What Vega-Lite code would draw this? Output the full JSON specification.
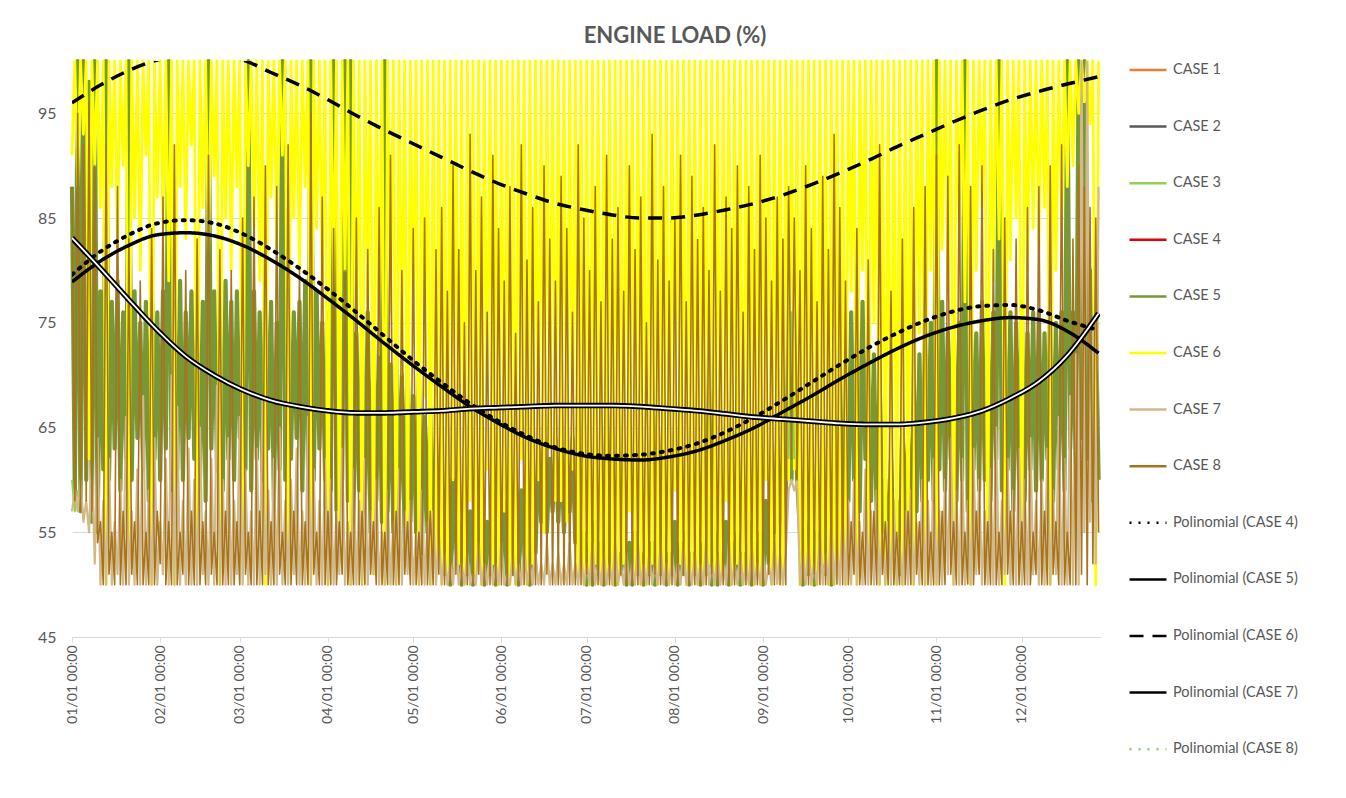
{
"$schema": "https://vega.github.io/schema/vega-lite/v6.json",
"autosize": {"type": "none"},
"padding": {"left": 72, "top": 61, "right": 246, "bottom": 161},
"width": 1028,
"height": 576,
"background": "white",
"config": {"view": {"stroke": null}, "font": "Lato"},
"title": {"text": "ENGINE LOAD (%)", "frame": "group", "anchor": "middle", "dx": 89, "offset": 2, "font": "Lato", "fontSize": 22, "fontWeight": "bold", "color": "#595959"},
"datasets": {
"main": [
{"d":0,"g":88,"y":91,"t":57,"b":88},{"d":1,"g":58,"y":100,"t":59,"b":58},{"d":2,"g":100,"y":88,"t":57,"b":95},{"d":3,"g":57,"y":100,"t":60,"b":57},{"d":4,"g":100,"y":93,"t":56,"b":92},{"d":5,"g":60,"y":100,"t":58,"b":58},{"d":6,"g":98,"y":62,"t":55,"b":96},{"d":7,"g":56,"y":100,"t":62,"b":57},{"d":8,"g":100,"y":90,"t":52,"b":90},{"d":9,"g":55,"y":100,"t":64,"b":54},
{"d":10,"g":78,"y":86,"t":50,"b":56},{"d":11,"g":61,"y":100,"t":58,"b":50},{"d":12,"g":100,"y":50,"t":50,"b":92},{"d":13,"g":60,"y":100,"t":62,"b":51},{"d":14,"g":77,"y":88,"t":50,"b":55},{"d":15,"g":63,"y":100,"t":56,"b":50},{"d":16,"g":79,"y":82,"t":51,"b":88},{"d":17,"g":59,"y":100,"t":60,"b":50},{"d":18,"g":76,"y":90,"t":50,"b":57},{"d":19,"g":62,"y":100,"t":66,"b":50},
{"d":20,"g":100,"y":52,"t":50,"b":83},{"d":21,"g":60,"y":100,"t":57,"b":51},{"d":22,"g":78,"y":85,"t":50,"b":56},{"d":23,"g":64,"y":100,"t":61,"b":50},{"d":24,"g":75,"y":80,"t":50,"b":79},{"d":25,"g":61,"y":100,"t":68,"b":50},{"d":26,"g":77,"y":91,"t":50,"b":55},{"d":27,"g":58,"y":100,"t":59,"b":50},{"d":28,"g":80,"y":50,"t":50,"b":84},{"d":29,"g":62,"y":100,"t":64,"b":50},
{"d":30,"g":76,"y":87,"t":50,"b":57},{"d":31,"g":60,"y":100,"t":56,"b":52},{"d":32,"g":78,"y":84,"t":51,"b":87},{"d":33,"g":63,"y":100,"t":62,"b":50},{"d":34,"g":100,"y":79,"t":50,"b":56},{"d":35,"g":59,"y":100,"t":70,"b":50},{"d":36,"g":77,"y":50,"t":50,"b":92},{"d":37,"g":61,"y":100,"t":67,"b":50},{"d":38,"g":79,"y":88,"t":50,"b":55},{"d":39,"g":60,"y":100,"t":58,"b":51},
{"d":40,"g":76,"y":83,"t":50,"b":80},{"d":41,"g":64,"y":100,"t":63,"b":50},{"d":42,"g":78,"y":92,"t":50,"b":57},{"d":43,"g":62,"y":100,"t":60,"b":50},{"d":44,"g":75,"y":52,"t":50,"b":83},{"d":45,"g":60,"y":100,"t":65,"b":50},{"d":46,"g":77,"y":86,"t":51,"b":56},{"d":47,"g":58,"y":100,"t":57,"b":50},{"d":48,"g":100,"y":81,"t":50,"b":91},{"d":49,"g":63,"y":100,"t":62,"b":51},
{"d":50,"g":78,"y":89,"t":50,"b":55},{"d":51,"g":61,"y":100,"t":69,"b":50},{"d":52,"g":76,"y":50,"t":50,"b":82},{"d":53,"g":59,"y":100,"t":60,"b":50},{"d":54,"g":79,"y":85,"t":50,"b":57},{"d":55,"g":62,"y":100,"t":64,"b":50},{"d":56,"g":77,"y":80,"t":50,"b":80},{"d":57,"g":60,"y":100,"t":58,"b":50},{"d":58,"g":78,"y":88,"t":51,"b":56},{"d":59,"g":64,"y":100,"t":66,"b":50},
{"d":60,"g":75,"y":53,"t":50,"b":85},{"d":61,"g":61,"y":100,"t":61,"b":51},{"d":62,"g":100,"y":90,"t":50,"b":55},{"d":63,"g":59,"y":100,"t":57,"b":50},{"d":64,"g":78,"y":84,"t":50,"b":87},{"d":65,"g":62,"y":100,"t":63,"b":50},{"d":66,"g":76,"y":79,"t":50,"b":57},{"d":67,"g":60,"y":100,"t":68,"b":50},{"d":68,"g":79,"y":50,"t":51,"b":90},{"d":69,"g":63,"y":100,"t":59,"b":50},
{"d":70,"g":77,"y":87,"t":50,"b":56},{"d":71,"g":58,"y":100,"t":62,"b":50},{"d":72,"g":75,"y":82,"t":50,"b":88},{"d":73,"g":61,"y":100,"t":65,"b":51},{"d":74,"g":100,"y":91,"t":50,"b":55},{"d":75,"g":60,"y":100,"t":58,"b":50},{"d":76,"g":78,"y":51,"t":50,"b":92},{"d":77,"g":62,"y":100,"t":60,"b":50},{"d":78,"g":76,"y":85,"t":51,"b":57},{"d":79,"g":64,"y":100,"t":63,"b":50},
{"d":80,"g":77,"y":80,"t":50,"b":80},{"d":81,"g":59,"y":100,"t":57,"b":50},{"d":82,"g":79,"y":88,"t":50,"b":56},{"d":83,"g":61,"y":100,"t":66,"b":50},{"d":84,"g":100,"y":50,"t":50,"b":95},{"d":85,"g":60,"y":100,"t":61,"b":51},{"d":86,"g":78,"y":84,"t":50,"b":55},{"d":87,"g":63,"y":100,"t":58,"b":50},{"d":88,"g":75,"y":79,"t":50,"b":87},{"d":89,"g":60,"y":100,"t":62,"b":50},
{"d":90,"g":76,"y":50,"t":50,"b":57},{"d":91,"g":59,"y":100,"t":60,"b":50},{"d":92,"g":100,"y":78,"t":50,"b":84},{"d":93,"g":57,"y":100,"t":57,"b":50},{"d":94,"g":75,"y":52,"t":51,"b":56},{"d":95,"g":60,"y":100,"t":63,"b":51},{"d":96,"g":100,"y":80,"t":50,"b":80},{"d":97,"g":58,"y":100,"t":56,"b":50},{"d":98,"g":100,"y":50,"t":50,"b":55},{"d":99,"g":56,"y":100,"t":61,"b":50},
{"d":100,"g":74,"y":74,"t":50,"b":85},{"d":101,"g":59,"y":100,"t":58,"b":50},{"d":102,"g":73,"y":50,"t":50,"b":57},{"d":103,"g":57,"y":100,"t":62,"b":50},{"d":104,"g":76,"y":77,"t":50,"b":82},{"d":105,"g":55,"y":100,"t":57,"b":51},{"d":106,"g":72,"y":51,"t":51,"b":56},{"d":107,"g":58,"y":100,"t":60,"b":50},{"d":108,"g":74,"y":72,"t":50,"b":86},{"d":109,"g":56,"y":100,"t":55,"b":50},
{"d":110,"g":100,"y":50,"t":50,"b":55},{"d":111,"g":57,"y":100,"t":59,"b":50},{"d":112,"g":71,"y":76,"t":50,"b":91},{"d":113,"g":55,"y":100,"t":56,"b":50},{"d":114,"g":73,"y":50,"t":50,"b":57},{"d":115,"g":58,"y":100,"t":61,"b":50},{"d":116,"g":70,"y":70,"t":50,"b":80},{"d":117,"g":54,"y":100,"t":57,"b":51},{"d":118,"g":72,"y":52,"t":51,"b":56},{"d":119,"g":56,"y":100,"t":58,"b":50},
{"d":120,"g":68,"y":73,"t":50,"b":84},{"d":121,"g":55,"y":100,"t":55,"b":50},{"d":122,"g":70,"y":50,"t":50,"b":55},{"d":123,"g":53,"y":100,"t":59,"b":50},{"d":124,"g":66,"y":68,"t":50,"b":85},{"d":125,"g":55,"y":100,"t":56,"b":50},{"d":126,"g":67,"y":50,"t":50,"b":57},{"d":127,"g":52,"y":100,"t":57,"b":50},{"d":128,"g":64,"y":51,"t":50,"b":82},{"d":129,"g":54,"y":100,"t":55,"b":51},
{"d":130,"g":58,"y":50,"t":50,"b":86},{"d":131,"g":51,"y":100,"t":53,"b":50},{"d":132,"g":57,"y":51,"t":50,"b":78},{"d":133,"g":50,"y":100,"t":52,"b":50},{"d":134,"g":60,"y":60,"t":50,"b":90},{"d":135,"g":52,"y":100,"t":54,"b":51},{"d":136,"g":56,"y":52,"t":50,"b":82},{"d":137,"g":50,"y":100,"t":52,"b":50},{"d":138,"g":59,"y":50,"t":50,"b":75},{"d":139,"g":51,"y":100,"t":53,"b":50},
{"d":140,"g":57,"y":58,"t":50,"b":93},{"d":141,"g":50,"y":100,"t":51,"b":50},{"d":142,"g":58,"y":51,"t":50,"b":80},{"d":143,"g":52,"y":100,"t":54,"b":51},{"d":144,"g":60,"y":50,"t":50,"b":87},{"d":145,"g":50,"y":100,"t":52,"b":50},{"d":146,"g":56,"y":61,"t":50,"b":76},{"d":147,"g":51,"y":100,"t":53,"b":50},{"d":148,"g":59,"y":52,"t":50,"b":91},{"d":149,"g":50,"y":100,"t":52,"b":50},
{"d":150,"g":57,"y":50,"t":50,"b":84},{"d":151,"g":52,"y":100,"t":54,"b":50},{"d":152,"g":58,"y":57,"t":50,"b":79},{"d":153,"g":50,"y":100,"t":51,"b":50},{"d":154,"g":60,"y":50,"t":50,"b":88},{"d":155,"g":51,"y":100,"t":53,"b":51},{"d":156,"g":57,"y":50,"t":50,"b":74},{"d":157,"g":50,"y":100,"t":52,"b":50},{"d":158,"g":59,"y":62,"t":50,"b":92},{"d":159,"g":52,"y":100,"t":54,"b":50},
{"d":160,"g":58,"y":50,"t":50,"b":81},{"d":161,"g":50,"y":100,"t":52,"b":50},{"d":162,"g":56,"y":52,"t":50,"b":86},{"d":163,"g":53,"y":100,"t":53,"b":50},{"d":164,"g":63,"y":60,"t":50,"b":77},{"d":165,"g":56,"y":100,"t":52,"b":50},{"d":166,"g":64,"y":55,"t":50,"b":90},{"d":167,"g":55,"y":100,"t":54,"b":51},{"d":168,"g":62,"y":63,"t":50,"b":83},{"d":169,"g":57,"y":100,"t":52,"b":50},
{"d":170,"g":64,"y":58,"t":50,"b":79},{"d":171,"g":56,"y":100,"t":53,"b":50},{"d":172,"g":63,"y":58,"t":50,"b":89},{"d":173,"g":55,"y":100,"t":52,"b":50},{"d":174,"g":62,"y":56,"t":50,"b":84},{"d":175,"g":57,"y":100,"t":54,"b":50},{"d":176,"g":64,"y":61,"t":50,"b":76},{"d":177,"g":54,"y":100,"t":52,"b":50},{"d":178,"g":60,"y":51,"t":50,"b":92},{"d":179,"g":52,"y":100,"t":53,"b":50},
{"d":180,"g":55,"y":50,"t":50,"b":85},{"d":181,"g":50,"y":100,"t":52,"b":51},{"d":182,"g":54,"y":50,"t":50,"b":80},{"d":183,"g":50,"y":100,"t":54,"b":50},{"d":184,"g":56,"y":52,"t":50,"b":88},{"d":185,"g":51,"y":100,"t":52,"b":50},{"d":186,"g":54,"y":50,"t":50,"b":77},{"d":187,"g":50,"y":100,"t":53,"b":50},{"d":188,"g":70,"y":51,"t":50,"b":91},{"d":189,"g":51,"y":100,"t":52,"b":50},
{"d":190,"g":55,"y":50,"t":50,"b":83},{"d":191,"g":50,"y":100,"t":54,"b":50},{"d":192,"g":53,"y":50,"t":50,"b":86},{"d":193,"g":51,"y":100,"t":52,"b":51},{"d":194,"g":56,"y":52,"t":50,"b":78},{"d":195,"g":50,"y":100,"t":53,"b":50},{"d":196,"g":54,"y":57,"t":50,"b":90},{"d":197,"g":50,"y":100,"t":52,"b":50},{"d":198,"g":55,"y":51,"t":50,"b":82},{"d":199,"g":51,"y":100,"t":54,"b":50},
{"d":200,"g":53,"y":50,"t":50,"b":87},{"d":201,"g":50,"y":100,"t":52,"b":50},{"d":202,"g":56,"y":50,"t":50,"b":75},{"d":203,"g":51,"y":100,"t":53,"b":50},{"d":204,"g":54,"y":52,"t":50,"b":93},{"d":205,"g":50,"y":100,"t":52,"b":51},{"d":206,"g":66,"y":50,"t":50,"b":81},{"d":207,"g":51,"y":100,"t":54,"b":50},{"d":208,"g":55,"y":51,"t":50,"b":88},{"d":209,"g":50,"y":100,"t":52,"b":50},
{"d":210,"g":53,"y":50,"t":50,"b":79},{"d":211,"g":51,"y":100,"t":53,"b":50},{"d":212,"g":56,"y":59,"t":50,"b":85},{"d":213,"g":50,"y":100,"t":52,"b":50},{"d":214,"g":54,"y":52,"t":50,"b":91},{"d":215,"g":51,"y":100,"t":54,"b":51},{"d":216,"g":55,"y":50,"t":50,"b":77},{"d":217,"g":50,"y":100,"t":52,"b":50},{"d":218,"g":53,"y":51,"t":50,"b":89},{"d":219,"g":51,"y":100,"t":53,"b":50},
{"d":220,"g":56,"y":50,"t":50,"b":83},{"d":221,"g":50,"y":100,"t":52,"b":50},{"d":222,"g":54,"y":50,"t":50,"b":86},{"d":223,"g":51,"y":100,"t":54,"b":50},{"d":224,"g":72,"y":52,"t":50,"b":80},{"d":225,"g":50,"y":100,"t":52,"b":51},{"d":226,"g":55,"y":50,"t":50,"b":92},{"d":227,"g":50,"y":100,"t":53,"b":50},{"d":228,"g":53,"y":51,"t":50,"b":78},{"d":229,"g":51,"y":100,"t":52,"b":50},
{"d":230,"g":56,"y":58,"t":50,"b":87},{"d":231,"g":50,"y":100,"t":54,"b":50},{"d":232,"g":54,"y":50,"t":50,"b":84},{"d":233,"g":51,"y":100,"t":52,"b":50},{"d":234,"g":55,"y":52,"t":50,"b":90},{"d":235,"g":50,"y":100,"t":53,"b":51},{"d":236,"g":53,"y":50,"t":50,"b":76},{"d":237,"g":51,"y":100,"t":52,"b":50},{"d":238,"g":56,"y":51,"t":50,"b":88},{"d":239,"g":50,"y":100,"t":54,"b":50},
{"d":240,"g":54,"y":50,"t":50,"b":82},{"d":241,"g":51,"y":100,"t":52,"b":50},{"d":242,"g":55,"y":50,"t":50,"b":91},{"d":243,"g":50,"y":100,"t":53,"b":50},{"d":244,"g":58,"y":60,"t":50,"b":85},{"d":245,"g":52,"y":100,"t":52,"b":51},{"d":246,"g":62,"y":50,"t":50,"b":79},{"d":247,"g":55,"y":100,"t":54,"b":50},{"d":248,"g":64,"y":51,"t":50,"b":87},{"d":249,"g":56,"y":100,"t":53,"b":50},
{"d":250,"g":62,"y":50,"t":50,"b":83},{"d":251,"g":58,"y":100,"t":53,"b":50},{"d":252,"g":78,"y":60,"t":59,"b":88},{"d":253,"g":60,"y":100,"t":60,"b":62},{"d":254,"g":76,"y":61,"t":59,"b":85},{"d":255,"g":60,"y":100,"t":60,"b":60},{"d":256,"g":55,"y":50,"t":50,"b":80},{"d":257,"g":50,"y":100,"t":53,"b":50},{"d":258,"g":56,"y":51,"t":50,"b":90},{"d":259,"g":51,"y":100,"t":54,"b":50},
{"d":260,"g":58,"y":50,"t":50,"b":84},{"d":261,"g":50,"y":100,"t":52,"b":51},{"d":262,"g":55,"y":50,"t":50,"b":77},{"d":263,"g":52,"y":100,"t":55,"b":50},{"d":264,"g":60,"y":52,"t":50,"b":89},{"d":265,"g":51,"y":100,"t":53,"b":50},{"d":266,"g":57,"y":50,"t":50,"b":82},{"d":267,"g":50,"y":100,"t":56,"b":50},{"d":268,"g":62,"y":50,"t":50,"b":93},{"d":269,"g":53,"y":100,"t":54,"b":50},
{"d":270,"g":66,"y":51,"t":50,"b":86},{"d":271,"g":55,"y":100,"t":57,"b":50},{"d":272,"g":74,"y":50,"t":50,"b":79},{"d":273,"g":58,"y":100,"t":58,"b":50},{"d":274,"g":76,"y":78,"t":50,"b":56},{"d":275,"g":60,"y":100,"t":60,"b":51},{"d":276,"g":75,"y":50,"t":50,"b":84},{"d":277,"g":57,"y":100,"t":56,"b":50},{"d":278,"g":77,"y":80,"t":50,"b":55},{"d":279,"g":62,"y":100,"t":61,"b":50},
{"d":280,"g":73,"y":52,"t":50,"b":81},{"d":281,"g":58,"y":100,"t":57,"b":50},{"d":282,"g":72,"y":75,"t":50,"b":57},{"d":283,"g":56,"y":100,"t":59,"b":50},{"d":284,"g":70,"y":50,"t":50,"b":92},{"d":285,"g":55,"y":100,"t":55,"b":51},{"d":286,"g":60,"y":50,"t":50,"b":56},{"d":287,"g":52,"y":100,"t":56,"b":50},{"d":288,"g":62,"y":51,"t":50,"b":78},{"d":289,"g":53,"y":100,"t":58,"b":50},
{"d":290,"g":58,"y":50,"t":50,"b":55},{"d":291,"g":51,"y":100,"t":54,"b":50},{"d":292,"g":66,"y":50,"t":50,"b":83},{"d":293,"g":55,"y":100,"t":57,"b":50},{"d":294,"g":64,"y":52,"t":50,"b":57},{"d":295,"g":54,"y":100,"t":59,"b":50},{"d":296,"g":70,"y":50,"t":50,"b":86},{"d":297,"g":57,"y":100,"t":56,"b":51},{"d":298,"g":72,"y":74,"t":50,"b":56},{"d":299,"g":58,"y":100,"t":60,"b":50},
{"d":300,"g":76,"y":50,"t":50,"b":88},{"d":301,"g":60,"y":100,"t":58,"b":50},{"d":302,"g":75,"y":80,"t":50,"b":55},{"d":303,"g":58,"y":100,"t":62,"b":50},{"d":304,"g":100,"y":50,"t":50,"b":91},{"d":305,"g":61,"y":100,"t":57,"b":50},{"d":306,"g":77,"y":82,"t":50,"b":57},{"d":307,"g":59,"y":100,"t":60,"b":50},{"d":308,"g":74,"y":78,"t":51,"b":89},{"d":309,"g":62,"y":100,"t":64,"b":51},
{"d":310,"g":76,"y":50,"t":50,"b":56},{"d":311,"g":58,"y":100,"t":59,"b":50},{"d":312,"g":75,"y":84,"t":50,"b":92},{"d":313,"g":60,"y":100,"t":62,"b":50},{"d":314,"g":100,"y":77,"t":50,"b":55},{"d":315,"g":57,"y":100,"t":58,"b":50},{"d":316,"g":76,"y":50,"t":50,"b":88},{"d":317,"g":61,"y":100,"t":63,"b":50},{"d":318,"g":74,"y":80,"t":51,"b":57},{"d":319,"g":59,"y":100,"t":60,"b":51},
{"d":320,"g":77,"y":86,"t":50,"b":90},{"d":321,"g":60,"y":100,"t":57,"b":50},{"d":322,"g":75,"y":51,"t":50,"b":56},{"d":323,"g":58,"y":100,"t":61,"b":50},{"d":324,"g":76,"y":79,"t":50,"b":82},{"d":325,"g":62,"y":100,"t":65,"b":50},{"d":326,"g":100,"y":83,"t":50,"b":55},{"d":327,"g":59,"y":100,"t":58,"b":50},{"d":328,"g":74,"y":50,"t":51,"b":85},{"d":329,"g":61,"y":100,"t":62,"b":51},
{"d":330,"g":76,"y":81,"t":50,"b":57},{"d":331,"g":57,"y":100,"t":59,"b":50},{"d":332,"g":75,"y":85,"t":50,"b":83},{"d":333,"g":60,"y":100,"t":63,"b":50},{"d":334,"g":77,"y":52,"t":50,"b":56},{"d":335,"g":58,"y":100,"t":60,"b":50},{"d":336,"g":74,"y":80,"t":50,"b":86},{"d":337,"g":61,"y":100,"t":64,"b":50},{"d":338,"g":76,"y":84,"t":51,"b":55},{"d":339,"g":59,"y":100,"t":58,"b":51},
{"d":340,"g":76,"y":82,"t":50,"b":88},{"d":341,"g":60,"y":100,"t":60,"b":50},{"d":342,"g":74,"y":86,"t":50,"b":57},{"d":343,"g":62,"y":100,"t":63,"b":50},{"d":344,"g":77,"y":50,"t":50,"b":90},{"d":345,"g":58,"y":100,"t":59,"b":51},{"d":346,"g":75,"y":80,"t":51,"b":56},{"d":347,"g":61,"y":100,"t":66,"b":50},{"d":348,"g":76,"y":84,"t":50,"b":92},{"d":349,"g":59,"y":100,"t":62,"b":50},
{"d":350,"g":100,"y":88,"t":50,"b":55},{"d":351,"g":63,"y":100,"t":68,"b":50},{"d":352,"g":76,"y":90,"t":50,"b":83},{"d":353,"g":60,"y":100,"t":72,"b":50},{"d":354,"g":100,"y":95,"t":50,"b":90},{"d":355,"g":64,"y":100,"t":100,"b":51},{"d":356,"g":100,"y":96,"t":55,"b":88},{"d":357,"g":62,"y":100,"t":100,"b":50},{"d":358,"g":80,"y":94,"t":56,"b":86},{"d":359,"g":58,"y":100,"t":75,"b":52},
{"d":360,"g":76,"y":50,"t":52,"b":85},{"d":361,"g":60,"y":100,"t":88,"b":55}
],
"poly": [
{"d":0,"a":79.6,"p":78.9,"q":96.0,"r":83.1},{"d":10,"a":81.8,"p":80.9,"q":97.7,"r":80.2},{"d":20,"a":83.4,"p":82.4,"q":99.1,"r":77.2},{"d":30,"a":84.5,"p":83.4,"q":100.1,"r":74.3},{"d":40,"a":84.8,"p":83.6,"q":100.6,"r":71.8},{"d":50,"a":84.5,"p":83.3,"q":100.6,"r":70.0},{"d":60,"a":83.5,"p":82.4,"q":100.1,"r":68.6},{"d":70,"a":82.0,"p":81.0,"q":98.9,"r":67.6},{"d":80,"a":80.2,"p":79.3,"q":97.7,"r":67.0},{"d":90,"a":78.2,"p":77.3,"q":96.3,"r":66.6},
{"d":100,"a":76.0,"p":75.2,"q":94.8,"r":66.4},{"d":110,"a":73.7,"p":73.0,"q":93.4,"r":66.4},{"d":120,"a":71.4,"p":70.9,"q":92.1,"r":66.5},{"d":130,"a":69.3,"p":68.9,"q":90.8,"r":66.6},{"d":140,"a":67.3,"p":67.0,"q":89.5,"r":66.8},{"d":150,"a":65.6,"p":65.4,"q":88.3,"r":66.9},{"d":160,"a":64.2,"p":64.0,"q":87.3,"r":67.0},{"d":170,"a":63.1,"p":63.0,"q":86.4,"r":67.1},{"d":180,"a":62.5,"p":62.3,"q":85.8,"r":67.1},{"d":190,"a":62.3,"p":62.0,"q":85.3,"r":67.1},
{"d":200,"a":62.4,"p":61.9,"q":85.0,"r":67.0},{"d":210,"a":62.8,"p":62.2,"q":85.0,"r":66.8},{"d":220,"a":63.5,"p":62.8,"q":85.3,"r":66.6},{"d":230,"a":64.6,"p":63.8,"q":85.8,"r":66.3},{"d":240,"a":66.0,"p":65.0,"q":86.4,"r":66.0},{"d":250,"a":67.6,"p":66.5,"q":87.2,"r":65.8},{"d":260,"a":69.3,"p":68.0,"q":88.2,"r":65.6},{"d":270,"a":71.0,"p":69.6,"q":89.3,"r":65.4},{"d":280,"a":72.6,"p":71.1,"q":90.5,"r":65.3},{"d":290,"a":74.0,"p":72.5,"q":91.8,"r":65.3},
{"d":300,"a":75.2,"p":73.7,"q":93.0,"r":65.5},{"d":310,"a":76.1,"p":74.6,"q":94.2,"r":65.9},{"d":320,"a":76.6,"p":75.2,"q":95.3,"r":66.6},{"d":330,"a":76.7,"p":75.5,"q":96.3,"r":67.8},{"d":340,"a":76.2,"p":75.3,"q":97.1,"r":69.4},{"d":350,"a":75.2,"p":74.2,"q":97.8,"r":71.9},{"d":361,"a":74.3,"p":72.1,"q":98.5,"r":75.9}
]
},
"data": {"name": "main"},
"encoding": {
  "x": {"field": "d", "type": "quantitative", "scale": {"domain": [0, 361.5], "nice": false, "zero": false},
    "axis": {"title": null, "values": [0,31,59,90,120,151,181,212,243,273,304,334], "labelExpr": "timeFormat(datetime(2021, 0, 1 + datum.value), '%m/%d %H:%M')", "labelAngle": -90, "labelFont": "Lato", "labelFontSize": 14, "labelColor": "#595959", "labelPadding": 3, "domainColor": "#d9d9d9", "tickColor": "#d9d9d9", "tickSize": 5, "grid": false}},
  "y": {"type": "quantitative", "scale": {"domain": [45, 100], "nice": false, "zero": false},
    "axis": {"title": null, "values": [45,55,65,75,85,95], "grid": true, "gridColor": "#d9d9d9", "domain": false, "ticks": false, "labelFont": "Lato", "labelFontSize": 16, "labelColor": "#595959", "labelPadding": 16}},
  "color": {"scale": {"domain": ["CASE 1","CASE 2","CASE 3","CASE 4","CASE 5","CASE 6","CASE 7","CASE 8","Polinomial (CASE 4)","Polinomial (CASE 5)","Polinomial (CASE 6)","Polinomial (CASE 7)","Polinomial (CASE 8)"],
                 "range": ["#ED7D31","#5A5A5A","#92D050","#E00000","#789838","#FFFF00","#D2B98A","#A6741E","#000000","#000000","#000000","#000000","#92D050"]},
       "legend": {"orient": "none", "legendX": 1056, "legendY": -11, "title": null, "padding": 0, "symbolType": "stroke", "symbolSize": 1369, "symbolStrokeWidth": 2.5, "labelFont": "Lato", "labelFontSize": 14.5, "labelColor": "#595959", "rowPadding": 29.6, "labelOffset": 5}},
  "strokeDash": {"scale": {"domain": ["CASE 1","CASE 2","CASE 3","CASE 4","CASE 5","CASE 6","CASE 7","CASE 8","Polinomial (CASE 4)","Polinomial (CASE 5)","Polinomial (CASE 6)","Polinomial (CASE 7)","Polinomial (CASE 8)"],
                 "range": [[1,0],[1,0],[1,0],[1,0],[1,0],[1,0],[1,0],[1,0],[2,7],[1,0],[14,9],[1,0],[2,7]]},
       "legend": {"orient": "none", "legendX": 1056, "legendY": -11, "title": null, "padding": 0, "symbolType": "stroke", "symbolSize": 1369, "symbolStrokeWidth": 2.5, "labelFont": "Lato", "labelFontSize": 14.5, "labelColor": "#595959", "rowPadding": 29.6, "labelOffset": 5}}
},
"layer": [
  {"mark": {"type": "line", "strokeWidth": 4.2, "strokeJoin": "round"},
   "encoding": {"y": {"field": "g"}, "color": {"datum": "CASE 5"}, "strokeDash": {"datum": "CASE 5"}}},
  {"mark": {"type": "line", "strokeWidth": 2.8, "strokeJoin": "round"},
   "encoding": {"y": {"field": "y"}, "color": {"datum": "CASE 6"}, "strokeDash": {"datum": "CASE 6"}}},
  {"data": {"values": [{"d":0,"v":60,"s":1},{"d":1,"v":57,"s":1},{"d":2,"v":59,"s":1},{"d":252,"v":62,"s":2},{"d":253,"v":76,"s":2},{"d":254,"v":62,"s":2}]},
   "mark": {"type": "line", "strokeWidth": 2, "strokeJoin": "round"},
   "encoding": {"y": {"field": "v"}, "detail": {"field": "s"}, "color": {"datum": "CASE 3"}, "strokeDash": {"datum": "CASE 3"}}},
  {"mark": {"type": "line", "strokeWidth": 2.2, "strokeJoin": "round"},
   "encoding": {"y": {"field": "t"}, "color": {"datum": "CASE 7"}, "strokeDash": {"datum": "CASE 7"}}},
  {"mark": {"type": "line", "strokeWidth": 1.6, "strokeJoin": "round"},
   "encoding": {"y": {"field": "b"}, "color": {"datum": "CASE 8"}, "strokeDash": {"datum": "CASE 8"}}},
  {"data": {"name": "poly"},
   "mark": {"type": "line", "strokeWidth": 4, "strokeCap": "round", "interpolate": "monotone", "clip": true},
   "encoding": {"y": {"field": "a"}, "color": {"datum": "Polinomial (CASE 4)"}, "strokeDash": {"datum": "Polinomial (CASE 4)"}}},
  {"data": {"name": "poly"},
   "mark": {"type": "line", "strokeWidth": 3.5, "interpolate": "monotone", "clip": true},
   "encoding": {"y": {"field": "p"}, "color": {"datum": "Polinomial (CASE 5)"}, "strokeDash": {"datum": "Polinomial (CASE 5)"}}},
  {"data": {"name": "poly"},
   "mark": {"type": "line", "strokeWidth": 3.5, "interpolate": "monotone", "clip": true},
   "encoding": {"y": {"field": "q"}, "color": {"datum": "Polinomial (CASE 6)"}, "strokeDash": {"datum": "Polinomial (CASE 6)"}}},
  {"data": {"name": "poly"},
   "mark": {"type": "line", "strokeWidth": 5.5, "interpolate": "monotone", "clip": true},
   "encoding": {"y": {"field": "r"}, "color": {"datum": "Polinomial (CASE 7)"}, "strokeDash": {"datum": "Polinomial (CASE 7)"}}},
  {"data": {"name": "poly"},
   "mark": {"type": "line", "strokeWidth": 1.8, "interpolate": "monotone", "clip": true, "color": "white"},
   "encoding": {"y": {"field": "r"}}}
]
}
